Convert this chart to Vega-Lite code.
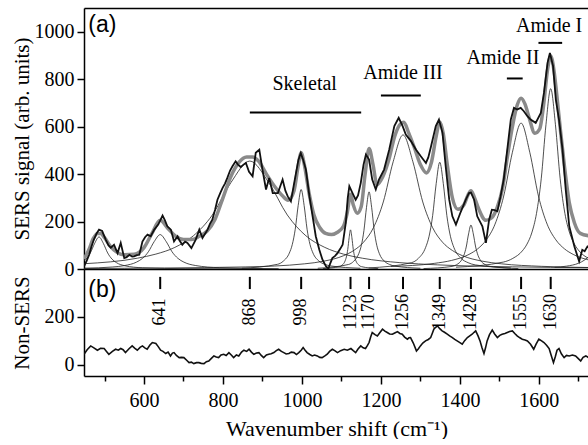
{
"$schema": "https://vega.github.io/schema/vega-lite/v6.json",
"padding": {"left": 10, "top": 8, "right": 0, "bottom": 0},
"background": "white",
"spacing": 0,
"bounds": "flush",
"config": {
  "view": {"stroke": null},
  "font": "Liberation Serif",
  "style": {"guide-label": {"font": "Liberation Serif", "fill": "black"}, "guide-title": {"font": "Liberation Serif", "fill": "black"}},
  "axis": {"labelFont": "Liberation Serif", "titleFont": "Liberation Serif", "labelColor": "black", "titleColor": "black", "domainColor": "black", "tickColor": "black", "grid": false, "titleFontWeight": "normal", "domainWidth": 1.5, "tickWidth": 1.5, "labelOverlap": false}
},
"datasets": {
"comp": [
{"id":1,"x":420,"y":13.5},{"id":1,"x":442,"y":27},{"id":1,"x":453,"y":41.5},{"id":1,"x":464,"y":67.5},{"id":1,"x":475,"y":108},{"id":1,"x":486,"y":135},{"id":1,"x":497,"y":108},{"id":1,"x":508,"y":67.5},{"id":1,"x":519,"y":41.5},{"id":1,"x":530,"y":27},{"id":1,"x":552,"y":13.5},{"id":1,"x":596,"y":5.2},{"id":1,"x":706,"y":1.3},{"id":1,"x":900,"y":0.4},
{"id":2,"x":448,"y":3.4},{"id":2,"x":521,"y":8.5},{"id":2,"x":551,"y":14.5},{"id":2,"x":581,"y":29},{"id":2,"x":596,"y":44.6},{"id":2,"x":611,"y":72.5},{"id":2,"x":626,"y":116},{"id":2,"x":641,"y":145},{"id":2,"x":656,"y":116},{"id":2,"x":671,"y":72.5},{"id":2,"x":686,"y":44.6},{"id":2,"x":701,"y":29},{"id":2,"x":731,"y":14.5},{"id":2,"x":791,"y":5.6},{"id":2,"x":941,"y":1.4},
{"id":3,"x":448,"y":22.2},{"id":3,"x":583,"y":45.5},{"id":3,"x":630,"y":62.8},{"id":3,"x":678,"y":91},{"id":3,"x":725,"y":140},{"id":3,"x":773,"y":227.5},{"id":3,"x":820,"y":364},{"id":3,"x":868,"y":455},{"id":3,"x":916,"y":364},{"id":3,"x":963,"y":227.5},{"id":3,"x":1010,"y":140},{"id":3,"x":1058,"y":91},{"id":3,"x":1105,"y":62.8},{"id":3,"x":1153,"y":45.5},{"id":3,"x":1248,"y":26.8},{"id":3,"x":1343,"y":17.5},{"id":3,"x":1533,"y":9.1},{"id":3,"x":1727,"y":5.5},
{"id":4,"x":848,"y":3.2},{"id":4,"x":938,"y":19.7},{"id":4,"x":953,"y":33.5},{"id":4,"x":968,"y":67},{"id":4,"x":975.5,"y":103},{"id":4,"x":983,"y":167.5},{"id":4,"x":990.5,"y":268},{"id":4,"x":998,"y":335},{"id":4,"x":1005.5,"y":268},{"id":4,"x":1013,"y":167.5},{"id":4,"x":1020.5,"y":103},{"id":4,"x":1028,"y":67},{"id":4,"x":1043,"y":33.5},{"id":4,"x":1058,"y":19.7},{"id":4,"x":1073,"y":12.9},{"id":4,"x":1148,"y":3.2},
{"id":5,"x":1053,"y":1.6},{"id":5,"x":1095,"y":9.7},{"id":5,"x":1102,"y":16.5},{"id":5,"x":1109,"y":33},{"id":5,"x":1112.5,"y":50.8},{"id":5,"x":1116,"y":82.5},{"id":5,"x":1119.5,"y":132},{"id":5,"x":1123,"y":165},{"id":5,"x":1126.5,"y":132},{"id":5,"x":1130,"y":82.5},{"id":5,"x":1133.5,"y":50.8},{"id":5,"x":1137,"y":33},{"id":5,"x":1144,"y":16.5},{"id":5,"x":1151,"y":9.7},{"id":5,"x":1193,"y":1.6},
{"id":6,"x":1040,"y":3.1},{"id":6,"x":1118,"y":19.1},{"id":6,"x":1131,"y":32.5},{"id":6,"x":1144,"y":65},{"id":6,"x":1150.5,"y":100},{"id":6,"x":1157,"y":162.5},{"id":6,"x":1163.5,"y":260},{"id":6,"x":1170,"y":325},{"id":6,"x":1176.5,"y":260},{"id":6,"x":1183,"y":162.5},{"id":6,"x":1189.5,"y":100},{"id":6,"x":1196,"y":65},{"id":6,"x":1209,"y":32.5},{"id":6,"x":1222,"y":19.1},{"id":6,"x":1235,"y":12.5},{"id":6,"x":1300,"y":3.1},
{"id":7,"x":448,"y":2.2},{"id":7,"x":856,"y":8.7},{"id":7,"x":1006,"y":21.7},{"id":7,"x":1056,"y":33.2},{"id":7,"x":1106,"y":56.5},{"id":7,"x":1131,"y":78},{"id":7,"x":1156,"y":113},{"id":7,"x":1181,"y":174},{"id":7,"x":1206,"y":282.5},{"id":7,"x":1231,"y":452},{"id":7,"x":1256,"y":565},{"id":7,"x":1281,"y":452},{"id":7,"x":1306,"y":282.5},{"id":7,"x":1331,"y":174},{"id":7,"x":1356,"y":113},{"id":7,"x":1381,"y":78},{"id":7,"x":1406,"y":56.5},{"id":7,"x":1456,"y":33.2},{"id":7,"x":1506,"y":21.7},{"id":7,"x":1606,"y":11.3},{"id":7,"x":1727,"y":6.3},
{"id":8,"x":1169,"y":4.5},{"id":8,"x":1277,"y":26.5},{"id":8,"x":1295,"y":45},{"id":8,"x":1313,"y":90},{"id":8,"x":1322,"y":138},{"id":8,"x":1331,"y":225},{"id":8,"x":1340,"y":360},{"id":8,"x":1349,"y":450},{"id":8,"x":1358,"y":360},{"id":8,"x":1367,"y":225},{"id":8,"x":1376,"y":138},{"id":8,"x":1385,"y":90},{"id":8,"x":1403,"y":45},{"id":8,"x":1421,"y":26.5},{"id":8,"x":1439,"y":17.3},{"id":8,"x":1529,"y":4.5},
{"id":9,"x":1308,"y":1.8},{"id":9,"x":1380,"y":10.9},{"id":9,"x":1392,"y":18.5},{"id":9,"x":1404,"y":37},{"id":9,"x":1410,"y":57},{"id":9,"x":1416,"y":92.5},{"id":9,"x":1422,"y":148},{"id":9,"x":1428,"y":185},{"id":9,"x":1434,"y":148},{"id":9,"x":1440,"y":92.5},{"id":9,"x":1446,"y":57},{"id":9,"x":1452,"y":37},{"id":9,"x":1464,"y":18.5},{"id":9,"x":1476,"y":10.9},{"id":9,"x":1548,"y":1.8},
{"id":10,"x":1225,"y":10.8},{"id":10,"x":1335,"y":23.7},{"id":10,"x":1379,"y":36.2},{"id":10,"x":1423,"y":61.5},{"id":10,"x":1445,"y":84.8},{"id":10,"x":1467,"y":123},{"id":10,"x":1489,"y":189},{"id":10,"x":1511,"y":307.5},{"id":10,"x":1533,"y":492},{"id":10,"x":1555,"y":615},{"id":10,"x":1577,"y":492},{"id":10,"x":1599,"y":307.5},{"id":10,"x":1621,"y":189},{"id":10,"x":1643,"y":123},{"id":10,"x":1665,"y":84.8},{"id":10,"x":1687,"y":61.5},{"id":10,"x":1731,"y":36.2},
{"id":11,"x":1390,"y":7.5},{"id":11,"x":1510,"y":29.2},{"id":11,"x":1534,"y":44.7},{"id":11,"x":1558,"y":76},{"id":11,"x":1570,"y":105},{"id":11,"x":1582,"y":152},{"id":11,"x":1594,"y":234},{"id":11,"x":1606,"y":380},{"id":11,"x":1618,"y":608},{"id":11,"x":1630,"y":760},{"id":11,"x":1642,"y":608},{"id":11,"x":1654,"y":380},{"id":11,"x":1666,"y":234},{"id":11,"x":1678,"y":152},{"id":11,"x":1690,"y":105},{"id":11,"x":1702,"y":76},{"id":11,"x":1726,"y":44.7},
{"id":12,"x":1640,"y":7.1},{"id":12,"x":1670,"y":12},{"id":12,"x":1700,"y":24},{"id":12,"x":1715,"y":36.9},{"id":12,"x":1730,"y":60},{"id":12,"x":1745,"y":96},{"id":12,"x":1760,"y":120}
],
"fit": [
{"x":448,"y":42},{"x":460,"y":80},{"x":472,"y":130},{"x":482,"y":150},{"x":490,"y":150},{"x":500,"y":132},{"x":515,"y":95},{"x":530,"y":72},{"x":550,"y":60},{"x":575,"y":62},{"x":600,"y":90},{"x":620,"y":150},{"x":641,"y":205},{"x":660,"y":172},{"x":680,"y":138},{"x":700,"y":124},{"x":720,"y":124},{"x":740,"y":138},{"x":760,"y":160},{"x":780,"y":210},{"x":800,"y":300},{"x":820,"y":390},{"x":840,"y":448},{"x":860,"y":472},{"x":875,"y":472},{"x":890,"y":455},{"x":910,"y":400},{"x":930,"y":350},{"x":950,"y":310},{"x":965,"y":290},{"x":980,"y":330},{"x":990,"y":430},{"x":998,"y":490},{"x":1006,"y":440},{"x":1018,"y":320},{"x":1030,"y":230},{"x":1045,"y":175},{"x":1060,"y":150},{"x":1075,"y":145},{"x":1090,"y":155},{"x":1105,"y":180},{"x":1115,"y":240},{"x":1123,"y":315},{"x":1130,"y":270},{"x":1140,"y":235},{"x":1150,"y":262},{"x":1160,"y":400},{"x":1170,"y":508},{"x":1180,"y":440},{"x":1190,"y":355},{"x":1205,"y":390},{"x":1220,"y":460},{"x":1235,"y":560},{"x":1250,"y":612},{"x":1258,"y":618},{"x":1270,"y":575},{"x":1285,"y":510},{"x":1300,"y":440},{"x":1315,"y":405},{"x":1328,"y":450},{"x":1340,"y":560},{"x":1349,"y":620},{"x":1358,"y":570},{"x":1368,"y":440},{"x":1381,"y":300},{"x":1395,"y":252},{"x":1410,"y":270},{"x":1420,"y":310},{"x":1428,"y":330},{"x":1436,"y":305},{"x":1446,"y":260},{"x":1466,"y":205},{"x":1480,"y":215},{"x":1495,"y":262},{"x":1508,"y":340},{"x":1520,"y":470},{"x":1533,"y":600},{"x":1545,"y":690},{"x":1555,"y":720},{"x":1565,"y":695},{"x":1575,"y":640},{"x":1590,"y":572},{"x":1602,"y":590},{"x":1612,"y":690},{"x":1622,"y":840},{"x":1630,"y":898},{"x":1638,"y":840},{"x":1645,"y":740},{"x":1655,"y":580},{"x":1665,"y":430},{"x":1677,"y":280},{"x":1690,"y":195},{"x":1705,"y":150},{"x":1727,"y":140}
],
"raw": [
{"x":448,"y":11},{"x":455,"y":35},{"x":461,"y":60},{"x":467,"y":95},{"x":473,"y":124},{"x":480,"y":150},{"x":486,"y":166},{"x":494,"y":160},{"x":503,"y":124},{"x":510,"y":100},{"x":516,"y":90},{"x":524,"y":102},{"x":533,"y":67},{"x":541,"y":110},{"x":550,"y":46},{"x":556,"y":50},{"x":563,"y":60},{"x":570,"y":52},{"x":575,"y":53},{"x":582,"y":58},{"x":588,"y":60},{"x":596,"y":116},{"x":603,"y":135},{"x":609,"y":145},{"x":617,"y":138},{"x":626,"y":166},{"x":636,"y":187},{"x":647,"y":225},{"x":653,"y":205},{"x":659,"y":180},{"x":668,"y":166},{"x":676,"y":116},{"x":685,"y":138},{"x":690,"y":120},{"x":697,"y":102},{"x":704,"y":115},{"x":710,"y":110},{"x":720,"y":88},{"x":731,"y":124},{"x":740,"y":166},{"x":748,"y":131},{"x":755,"y":150},{"x":761,"y":166},{"x":767,"y":190},{"x":773,"y":208},{"x":780,"y":250},{"x":786,"y":292},{"x":793,"y":320},{"x":799,"y":342},{"x":805,"y":360},{"x":811,"y":384},{"x":818,"y":415},{"x":824,"y":433},{"x":832,"y":454},{"x":838,"y":440},{"x":845,"y":430},{"x":852,"y":440},{"x":858,"y":447},{"x":866,"y":410},{"x":875,"y":391},{"x":883,"y":490},{"x":892,"y":503},{"x":900,"y":419},{"x":909,"y":335},{"x":917,"y":384},{"x":926,"y":320},{"x":939,"y":320},{"x":951,"y":377},{"x":958,"y":330},{"x":964,"y":306},{"x":972,"y":285},{"x":979,"y":350},{"x":985,"y":405},{"x":991,"y":460},{"x":997,"y":489},{"x":1003,"y":460},{"x":1010,"y":419},{"x":1019,"y":306},{"x":1027,"y":222},{"x":1035,"y":138},{"x":1044,"y":81},{"x":1052,"y":39},{"x":1061,"y":11},{"x":1067,"y":2},{"x":1072,"y":25},{"x":1077,"y":46},{"x":1084,"y":55},{"x":1090,"y":67},{"x":1097,"y":85},{"x":1103,"y":102},{"x":1111,"y":194},{"x":1116,"y":300},{"x":1120,"y":349},{"x":1128,"y":320},{"x":1136,"y":292},{"x":1142,"y":310},{"x":1149,"y":363},{"x":1156,"y":440},{"x":1162,"y":482},{"x":1170,"y":461},{"x":1178,"y":377},{"x":1187,"y":335},{"x":1195,"y":377},{"x":1208,"y":419},{"x":1221,"y":503},{"x":1234,"y":602},{"x":1245,"y":637},{"x":1255,"y":602},{"x":1263,"y":567},{"x":1276,"y":539},{"x":1289,"y":503},{"x":1301,"y":475},{"x":1314,"y":447},{"x":1320,"y":470},{"x":1327,"y":517},{"x":1339,"y":602},{"x":1347,"y":630},{"x":1356,"y":574},{"x":1364,"y":433},{"x":1373,"y":292},{"x":1381,"y":222},{"x":1390,"y":187},{"x":1402,"y":240},{"x":1415,"y":292},{"x":1423,"y":320},{"x":1428,"y":322},{"x":1436,"y":292},{"x":1444,"y":222},{"x":1457,"y":180},{"x":1466,"y":110},{"x":1474,"y":208},{"x":1481,"y":250},{"x":1488,"y":248},{"x":1495,"y":243},{"x":1503,"y":306},{"x":1511,"y":377},{"x":1520,"y":503},{"x":1529,"y":630},{"x":1537,"y":679},{"x":1545,"y":672},{"x":1554,"y":679},{"x":1562,"y":665},{"x":1571,"y":644},{"x":1579,"y":630},{"x":1592,"y":616},{"x":1605,"y":658},{"x":1613,"y":743},{"x":1622,"y":869},{"x":1628,"y":911},{"x":1636,"y":855},{"x":1643,"y":714},{"x":1651,"y":630},{"x":1660,"y":503},{"x":1668,"y":335},{"x":1677,"y":180},{"x":1690,"y":95},{"x":1702,"y":32},{"x":1710,"y":81},{"x":1716,"y":75},{"x":1723,"y":95},{"x":1727,"y":90}
],
"nonsers": [
{"x":448,"y":43},{"x":456,"y":62},{"x":465,"y":78},{"x":473,"y":70},{"x":482,"y":60},{"x":490,"y":68},{"x":499,"y":67},{"x":505,"y":55},{"x":511,"y":43},{"x":520,"y":55},{"x":528,"y":64},{"x":535,"y":60},{"x":541,"y":67},{"x":547,"y":62},{"x":553,"y":50},{"x":562,"y":66},{"x":570,"y":78},{"x":577,"y":68},{"x":583,"y":60},{"x":590,"y":72},{"x":596,"y":78},{"x":602,"y":70},{"x":608,"y":64},{"x":615,"y":82},{"x":621,"y":92},{"x":630,"y":88},{"x":636,"y":75},{"x":642,"y":60},{"x":648,"y":55},{"x":655,"y":46},{"x":661,"y":52},{"x":667,"y":36},{"x":672,"y":48},{"x":676,"y":50},{"x":682,"y":38},{"x":689,"y":29},{"x":695,"y":30},{"x":701,"y":29},{"x":708,"y":18},{"x":714,"y":8},{"x":720,"y":10},{"x":726,"y":4},{"x":733,"y":8},{"x":739,"y":8},{"x":745,"y":5},{"x":752,"y":4},{"x":758,"y":12},{"x":764,"y":15},{"x":770,"y":25},{"x":777,"y":36},{"x":783,"y":32},{"x":789,"y":29},{"x":795,"y":40},{"x":802,"y":43},{"x":808,"y":38},{"x":815,"y":50},{"x":821,"y":40},{"x":827,"y":29},{"x":834,"y":40},{"x":840,"y":36},{"x":847,"y":52},{"x":853,"y":60},{"x":860,"y":55},{"x":866,"y":64},{"x":872,"y":52},{"x":878,"y":43},{"x":885,"y":48},{"x":891,"y":50},{"x":897,"y":38},{"x":903,"y":29},{"x":910,"y":40},{"x":916,"y":43},{"x":922,"y":45},{"x":929,"y":50},{"x":935,"y":58},{"x":941,"y":64},{"x":948,"y":55},{"x":954,"y":50},{"x":960,"y":44},{"x":967,"y":46},{"x":973,"y":52},{"x":980,"y":50},{"x":986,"y":42},{"x":992,"y":50},{"x":998,"y":60},{"x":1003,"y":71},{"x":1008,"y":60},{"x":1013,"y":50},{"x":1020,"y":42},{"x":1026,"y":36},{"x":1032,"y":40},{"x":1039,"y":36},{"x":1045,"y":30},{"x":1051,"y":29},{"x":1058,"y":36},{"x":1064,"y":43},{"x":1070,"y":55},{"x":1077,"y":64},{"x":1083,"y":58},{"x":1090,"y":50},{"x":1098,"y":58},{"x":1107,"y":64},{"x":1115,"y":60},{"x":1124,"y":67},{"x":1130,"y":58},{"x":1136,"y":50},{"x":1142,"y":65},{"x":1149,"y":78},{"x":1155,"y":70},{"x":1161,"y":67},{"x":1166,"y":80},{"x":1170,"y":92},{"x":1174,"y":115},{"x":1178,"y":134},{"x":1185,"y":125},{"x":1191,"y":120},{"x":1198,"y":135},{"x":1204,"y":148},{"x":1210,"y":140},{"x":1216,"y":134},{"x":1222,"y":128},{"x":1229,"y":127},{"x":1235,"y":132},{"x":1242,"y":138},{"x":1248,"y":130},{"x":1254,"y":127},{"x":1260,"y":115},{"x":1267,"y":106},{"x":1271,"y":112},{"x":1275,"y":113},{"x":1282,"y":90},{"x":1290,"y":57},{"x":1295,"y":66},{"x":1300,"y":78},{"x":1306,"y":90},{"x":1313,"y":99},{"x":1320,"y":105},{"x":1326,"y":113},{"x":1330,"y":130},{"x":1334,"y":148},{"x":1338,"y":155},{"x":1343,"y":162},{"x":1349,"y":150},{"x":1355,"y":141},{"x":1361,"y":135},{"x":1368,"y":127},{"x":1374,"y":120},{"x":1381,"y":113},{"x":1387,"y":105},{"x":1393,"y":99},{"x":1400,"y":92},{"x":1406,"y":85},{"x":1412,"y":100},{"x":1419,"y":113},{"x":1425,"y":120},{"x":1431,"y":127},{"x":1436,"y":135},{"x":1440,"y":141},{"x":1446,"y":120},{"x":1451,"y":99},{"x":1456,"y":70},{"x":1461,"y":46},{"x":1465,"y":70},{"x":1469,"y":99},{"x":1475,"y":125},{"x":1482,"y":144},{"x":1488,"y":128},{"x":1495,"y":113},{"x":1501,"y":122},{"x":1507,"y":127},{"x":1514,"y":130},{"x":1520,"y":134},{"x":1526,"y":138},{"x":1533,"y":141},{"x":1539,"y":130},{"x":1545,"y":120},{"x":1552,"y":112},{"x":1558,"y":106},{"x":1565,"y":103},{"x":1571,"y":99},{"x":1579,"y":85},{"x":1587,"y":64},{"x":1593,"y":85},{"x":1600,"y":106},{"x":1606,"y":100},{"x":1613,"y":92},{"x":1620,"y":80},{"x":1626,"y":67},{"x":1631,"y":40},{"x":1637,"y":8},{"x":1642,"y":35},{"x":1646,"y":60},{"x":1651,"y":67},{"x":1657,"y":45},{"x":1664,"y":29},{"x":1670,"y":38},{"x":1677,"y":36},{"x":1685,"y":40},{"x":1693,"y":36},{"x":1700,"y":25},{"x":1706,"y":15},{"x":1712,"y":30},{"x":1719,"y":36},{"x":1727,"y":28}
],
"bars": [
{"x":868,"x2":1150,"y":660},{"x":1200,"x2":1301,"y":731},{"x":1519,"x2":1559,"y":803},{"x":1599,"x2":1659,"y":953}
],
"bandnames": [
{"x":1007,"y":778,"t":"Skeletal"},{"x":1256,"y":824,"t":"Amide III"},{"x":1509,"y":890,"t":"Amide II"},{"x":1626,"y":1024,"t":"Amide I"}
],
"peaks": [
{"p":641,"y1":316,"y2":367,"ly":220,"t":"641"},{"p":868,"y1":316,"y2":367,"ly":220,"t":"868"},{"p":998,"y1":316,"y2":367,"ly":220,"t":"998"},{"p":1123,"y1":316,"y2":367,"ly":220,"t":"1123"},{"p":1170,"y1":316,"y2":367,"ly":220,"t":"1170"},{"p":1256,"y1":316,"y2":367,"ly":220,"t":"1256"},{"p":1349,"y1":316,"y2":367,"ly":220,"t":"1349"},{"p":1428,"y1":316,"y2":367,"ly":220,"t":"1428"},{"p":1555,"y1":316,"y2":367,"ly":220,"t":"1555"},{"p":1630,"y1":316,"y2":367,"ly":220,"t":"1630"}
],
"panelA": [{"x":459,"y":1027,"t":"(a)"}],
"panelB": [{"x":459,"y":312,"t":"(b)"}]
},
"vconcat": [
{
  "width": 505,
  "height": 261,
  "resolve": {"axis": {"x": "independent"}},
  "layer": [
    {
      "data": {"name": "comp"},
      "mark": {"type": "line", "color": "#222222", "strokeWidth": 0.8, "interpolate": "monotone", "clip": true},
      "encoding": {
        "x": {"field": "x", "type": "quantitative", "scale": {"domain": [448, 1727], "nice": false, "zero": false},
              "axis": {"orient": "top", "ticks": false, "labels": false, "title": null, "domain": true}},
        "y": {"field": "y", "type": "quantitative", "scale": {"domain": [0, 1100], "nice": false},
              "axis": {"values": [0,100,200,300,400,500,600,700,800,900,1000], "format": "d",
                       "labelExpr": "datum.value % 200 == 0 ? datum.label : ''",
                       "tickSize": {"condition": {"test": "datum.value % 200 == 0", "value": 7}, "value": 4},
                       "labelFont": "Liberation Serif", "labelFontSize": 20, "labelPadding": 3, "labelOverlap": false,
                       "title": "SERS signal (arb. units)", "titleFont": "Liberation Serif", "titleFontSize": 21,
                       "titleX": -52, "titleY": 130.5, "titleAngle": 270, "titleBaseline": "bottom", "titleAlign": "center"}},
        "detail": {"field": "id", "type": "nominal"}
      }
    },
    {
      "data": {"name": "fit"},
      "mark": {"type": "line", "color": "#8a8a8a", "strokeWidth": 3.5, "interpolate": "monotone", "clip": true},
      "encoding": {
        "x": {"field": "x", "type": "quantitative", "scale": {"domain": [448, 1727], "nice": false, "zero": false},
              "axis": {"orient": "bottom", "ticks": false, "labels": false, "title": null, "domain": true}},
        "y": {"field": "y", "type": "quantitative", "scale": {"domain": [0, 1100], "nice": false}}
      }
    },
    {
      "data": {"name": "raw"},
      "mark": {"type": "line", "color": "#111111", "strokeWidth": 1.8, "clip": true},
      "encoding": {
        "x": {"field": "x", "type": "quantitative", "scale": {"domain": [448, 1727], "nice": false, "zero": false}, "axis": null},
        "y": {"field": "y", "type": "quantitative", "scale": {"domain": [0, 1100], "nice": false}}
      }
    },
    {
      "data": {"name": "bars"},
      "mark": {"type": "rule", "color": "black", "strokeWidth": 2},
      "encoding": {
        "x": {"field": "x", "type": "quantitative", "scale": {"domain": [448, 1727], "nice": false, "zero": false}, "axis": null},
        "x2": {"field": "x2"},
        "y": {"field": "y", "type": "quantitative", "scale": {"domain": [0, 1100], "nice": false}}
      }
    },
    {
      "data": {"name": "bandnames"},
      "mark": {"type": "text", "font": "Liberation Serif", "fontSize": 20, "color": "black", "align": "center", "baseline": "middle"},
      "encoding": {
        "x": {"field": "x", "type": "quantitative", "scale": {"domain": [448, 1727], "nice": false, "zero": false}, "axis": null},
        "y": {"field": "y", "type": "quantitative", "scale": {"domain": [0, 1100], "nice": false}},
        "text": {"field": "t"}
      }
    },
    {
      "data": {"name": "panelA"},
      "mark": {"type": "text", "font": "Liberation Sans", "fontSize": 23, "color": "black", "align": "left", "baseline": "middle"},
      "encoding": {
        "x": {"field": "x", "type": "quantitative", "scale": {"domain": [448, 1727], "nice": false, "zero": false}, "axis": null},
        "y": {"field": "y", "type": "quantitative", "scale": {"domain": [0, 1100], "nice": false}},
        "text": {"field": "t"}
      }
    }
  ]
},
{
  "width": 505,
  "height": 107,
  "layer": [
    {
      "data": {"name": "nonsers"},
      "mark": {"type": "line", "color": "#111111", "strokeWidth": 1.6, "clip": true},
      "encoding": {
        "x": {"field": "x", "type": "quantitative", "scale": {"domain": [448, 1727], "nice": false, "zero": false},
              "axis": {"orient": "bottom", "values": [500,600,700,800,900,1000,1100,1200,1300,1400,1500,1600,1700], "format": "d",
                       "labelExpr": "datum.value % 200 == 0 ? datum.label : ''",
                       "tickSize": {"condition": {"test": "datum.value % 200 == 0", "value": 8}, "value": 5},
                       "labelFont": "Liberation Serif", "labelFontSize": 20, "labelPadding": 6, "labelOverlap": false,
                       "title": "Wavenumber shift (cm⁻¹)", "titleFont": "Liberation Serif", "titleFontSize": 22, "titlePadding": 8}},
        "y": {"field": "y", "type": "quantitative", "scale": {"domain": [-48, 400], "nice": false, "zero": false},
              "axis": {"values": [0,200], "format": "d", "tickSize": 7,
                       "labelFont": "Liberation Serif", "labelFontSize": 20, "labelPadding": 3, "labelOverlap": false,
                       "title": "Non-SERS", "titleFont": "Liberation Serif", "titleFontSize": 21,
                       "titleX": -52, "titleY": 53.5, "titleAngle": 270, "titleBaseline": "bottom", "titleAlign": "center"}}
      }
    },
    {
      "data": {"name": "peaks"},
      "mark": {"type": "rule", "color": "black", "strokeWidth": 2},
      "encoding": {
        "x": {"field": "p", "type": "quantitative"},
        "y": {"field": "y1", "type": "quantitative"},
        "y2": {"field": "y2"}
      }
    },
    {
      "data": {"name": "peaks"},
      "mark": {"type": "text", "font": "Liberation Serif", "fontSize": 18, "color": "black", "angle": 270, "align": "center", "baseline": "middle"},
      "encoding": {
        "x": {"field": "p", "type": "quantitative"},
        "y": {"field": "ly", "type": "quantitative"},
        "text": {"field": "t"}
      }
    },
    {
      "data": {"name": "panelB"},
      "mark": {"type": "text", "font": "Liberation Sans", "fontSize": 23, "color": "black", "align": "left", "baseline": "middle"},
      "encoding": {
        "x": {"field": "x", "type": "quantitative"},
        "y": {"field": "y", "type": "quantitative"},
        "text": {"field": "t"}
      }
    }
  ]
}
]
}
